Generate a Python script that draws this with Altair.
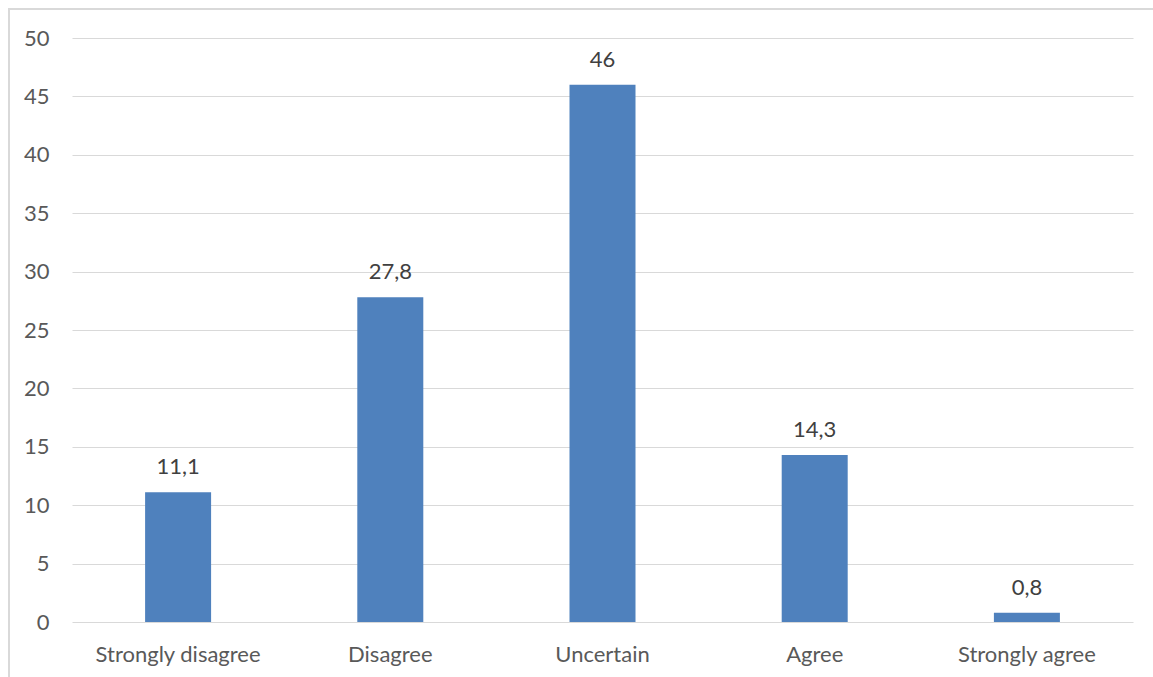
import altair as alt
import pandas as pd

categories = ["Strongly disagree", "Disagree", "Uncertain", "Agree", "Strongly agree"]
values = [11.1, 27.8, 46, 14.3, 0.8]
value_labels = ["11,1", "27,8", "46", "14,3", "0,8"]

df = pd.DataFrame({"cat": categories, "val": values, "lab": value_labels})

W, H = 1061, 584
FONT = "Lato"
FS = 22

x = alt.X("cat:N", sort=categories, title=None,
          scale=alt.Scale(paddingInner=0, paddingOuter=0),
          axis=alt.Axis(labelAngle=0, ticks=False, domain=False, labelFontSize=FS,
                        labelColor="#595959", labelFont=FONT, labelPadding=39,
                        labelBaseline="alphabetic", grid=False))
y = alt.Y("val:Q", title=None,
          scale=alt.Scale(domain=[0, 50], nice=False),
          axis=alt.Axis(values=[0, 5, 10, 15, 20, 25, 30, 35, 40, 45, 50], ticks=False,
                        domain=False, grid=True, gridColor="#d9d9d9", gridWidth=1,
                        labelFontSize=FS, labelColor="#595959", labelFont=FONT,
                        labelPadding=23))

bars = alt.Chart(df).mark_bar(size=66, color="#4F81BD").encode(x=x, y=y)
text = alt.Chart(df).mark_text(dy=-18, baseline="alphabetic", fontSize=FS,
                               color="#404040", font=FONT).encode(
    x=alt.X("cat:N", sort=categories), y="val:Q", text="lab:N")

border_left = alt.Chart(df).mark_rule(color="#d9d9d9", strokeWidth=2).encode(
    x=alt.value(-63), y=alt.value(-29), y2=alt.value(H + 60))
border_top = alt.Chart(df).mark_rule(color="#d9d9d9", strokeWidth=2).encode(
    x=alt.value(-64), x2=alt.value(W + 30), y=alt.value(-29))

chart = (alt.layer(bars, text, border_left, border_top)
         .properties(width=W, height=H, autosize=alt.AutoSizeParams(type="none"),
                     padding={"left": 72, "top": 38, "right": 20, "bottom": 55},
                     background="white")
         .configure_view(strokeWidth=0, stroke="transparent"))

chart.save("out.html", embed_options={"renderer": "svg", "actions": False})
